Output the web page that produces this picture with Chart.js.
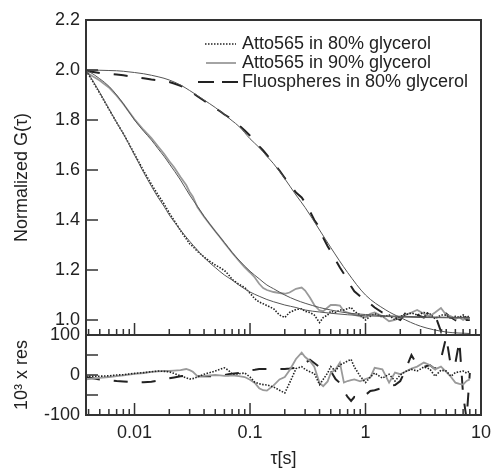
<!DOCTYPE html>
<html><head><meta charset="utf-8">
<script src="https://cdn.jsdelivr.net/npm/chart.js@4.4.0/dist/chart.umd.min.js"></script>
<style>
html,body{margin:0;padding:0;background:#fff;width:491px;height:468px;overflow:hidden;}
#c1{position:absolute;left:0;top:0;}
#c2{position:absolute;left:0;top:320px;}
</style></head><body>
<canvas id="c1" width="491" height="336"></canvas>
<canvas id="c2" width="491" height="148"></canvas>
<script>
// ---------- data ----------
const seriesNames = ['Atto565 in 80% glycerol', 'Atto565 in 90% glycerol', 'Fluospheres in 80% glycerol'];

const tauData = [0.0038, 0.004, 0.005, 0.006, 0.007, 0.008, 0.01, 0.012, 0.014, 0.016, 0.018, 0.02, 0.022, 0.025, 0.028, 0.03, 0.032, 0.035, 0.04, 0.045, 0.05, 0.055, 0.06, 0.065, 0.07, 0.08, 0.09, 0.1, 0.11, 0.12, 0.13, 0.14, 0.16, 0.18, 0.2, 0.22, 0.25, 0.28, 0.3, 0.33, 0.36, 0.4, 0.43, 0.47, 0.5, 0.55, 0.6, 0.65, 0.7, 0.75, 0.8, 0.9, 1.0, 1.1, 1.2, 1.4, 1.6, 1.8, 2.0, 2.2, 2.5, 2.8, 3.2, 3.6, 4.0, 4.5, 5.0, 5.5, 6.0, 6.5, 7.0, 7.5, 8.0];

const g80 = [1.997, 1.982, 1.907, 1.843, 1.79, 1.746, 1.664, 1.596, 1.543, 1.5, 1.464, 1.428, 1.399, 1.358, 1.325, 1.305, 1.294, 1.275, 1.252, 1.234, 1.22, 1.209, 1.198, 1.182, 1.162, 1.143, 1.13, 1.107,
  1.085, 1.072, 1.065, 1.058, 1.045, 1.02, 1.01, 1.03, 1.042, 1.045, 1.035, 1.03, 1.02, 0.99, 1.01, 1.02, 1.035, 1.03, 1.04, 1.04, 1.045, 1.05, 1.035, 1.02, 1.0, 1.015, 1.025, 1.012, 1.02, 1.0, 1.015, 1.02, 1.028, 1.02, 1.03, 1.025, 1.005, 1.02, 1.02, 1.005, 1.015, 1.01, 1.02, 1.01, 1.018];

const g90 = [1.998, 1.985, 1.958, 1.93, 1.897, 1.864, 1.803, 1.76, 1.728, 1.694, 1.665, 1.635, 1.611, 1.572, 1.54, 1.512, 1.493, 1.452, 1.413, 1.382, 1.355, 1.331, 1.308, 1.288, 1.269, 1.237, 1.21, 1.19,
  1.17, 1.145, 1.128, 1.12, 1.112, 1.108, 1.105, 1.11, 1.125, 1.13, 1.118, 1.09, 1.06, 1.038, 1.035, 1.05, 1.06, 1.06, 1.058, 1.035, 1.03, 1.025, 1.02, 1.015, 1.01, 1.025, 1.03, 1.015, 0.995, 1.0, 1.01, 1.02, 1.03, 1.04, 1.025, 1.015, 1.03, 1.048, 1.02, 1.015, 1.005, 1.01, 1.0, 1.008, 1.005];

const gFluo = [1.998, 1.995, 1.988, 1.985, 1.982, 1.979, 1.972, 1.967, 1.962, 1.959, 1.956, 1.952, 1.946, 1.937, 1.925, 1.916, 1.908, 1.895, 1.877, 1.862, 1.847, 1.835, 1.822, 1.812, 1.8, 1.78, 1.758, 1.737,
  1.712, 1.695, 1.678, 1.66, 1.628, 1.598, 1.568, 1.545, 1.51, 1.49, 1.47, 1.435, 1.4, 1.37, 1.33, 1.295, 1.275, 1.24, 1.21, 1.185, 1.16, 1.135, 1.115, 1.095, 1.085, 1.065, 1.05, 1.03, 1.025, 1.01, 1.0, 1.025, 1.005, 1.02, 1.01, 1.035, 1.02, 0.955, 1.025, 1.01, 1.0, 1.032, 1.015, 1.0, 1.0];

const res80 = [-3, -3, -3, -2, 0, 1, 4, 6, 8, 10, 9, 8, 4, -2, -7, -10, -9, -5, 2, 6, 10, 14, 18, 12, 2, 3, 5, -5,
  -18, -22, -24, -25, -30, -38, -45, -20, 16, 21, 14, 8, 4, -24, -11, 5, 21, 10, 25, 30, 35, 39, 20, -3, -19, -5, 5, -8, 2, -15, 0, 8, 14, 10, 20, 15, -3, 12, 10, -3, 6, 8, 10, 5, 10];

const res90 = [-11, -10, -7, -5, -3, -1, 3, 5, 8, 9, 10, 10, 11, 12, 15, 12, 8, -3, -2, -1, 0, -1, -2, -2, -1, -3, -5, -12,
  -20, -33, -38, -39, -26, -11, -5, 12, 40, 56, 45, 35, 21, -20, -28, -16, 5, 14, 31, -19, -15, -13, -11, -16, -10, -6, 18, 14, -19, 6, 2, 8, 16, 21, 31, 25, 14, 21, 8, -5, -19, -22, -24, -15, -11];

const resFluo = [-5, -6, -11, -13, -15, -16, -18, -18, -17, -14, -11, -8, -6, -3, -2, -2, -2, -3, -3, -3, -3, -1, 0, 2, 3, 5, 8, 12,
  13, 15, 15, 15, 15, 15, 15, 16, 18, 25, 30, 38, 30, 20, 18, 14, 10, -10, -20, -40, -55, -65, -55, -60, -50, -40, -38, -32, -28, -25, -15, 10, 50, 25, 20, 25, 15, 40, 95, 20, 30, 85, -50, -110, 5];

const tauFit = [0.0038, 0.004, 0.005, 0.006, 0.007, 0.008, 0.01, 0.012, 0.014, 0.016, 0.018, 0.02, 0.025, 0.03, 0.035, 0.04, 0.05, 0.06, 0.07, 0.08, 0.1, 0.12, 0.14, 0.16, 0.2, 0.25, 0.3, 0.4, 0.5, 0.7, 1, 1.5, 2, 3, 5, 8];
const fit80 = [2.0, 1.985, 1.91, 1.845, 1.79, 1.745, 1.66, 1.59, 1.535, 1.49, 1.455, 1.42, 1.36, 1.315, 1.28, 1.25, 1.21, 1.18, 1.16, 1.14, 1.112, 1.095, 1.082, 1.073, 1.06, 1.05, 1.04, 1.032, 1.027, 1.021, 1.017, 1.014, 1.012, 1.01, 1.009, 1.008];
const fit90 = [2.0, 1.995, 1.965, 1.935, 1.9, 1.865, 1.8, 1.755, 1.72, 1.685, 1.655, 1.625, 1.56, 1.5, 1.455, 1.415, 1.355, 1.31, 1.27, 1.24, 1.195, 1.165, 1.14, 1.125, 1.1, 1.08, 1.067, 1.05, 1.04, 1.028, 1.022, 1.017, 1.015, 1.013, 1.011, 1.01];
const fitFluo = [2.0, 2.0, 1.999, 1.998, 1.997, 1.995, 1.99, 1.985, 1.979, 1.973, 1.967, 1.96, 1.94, 1.918, 1.898, 1.88, 1.85, 1.822, 1.797, 1.775, 1.725, 1.69, 1.655, 1.625, 1.565, 1.5, 1.45, 1.36, 1.29, 1.19, 1.1, 1.04, 1.01, 0.975, 0.952, 0.946];

const xTickLabels = [0.01, 0.1, 1, 10];
const yTicksMain = [1.0, 1.2, 1.4, 1.6, 1.8, 2.0, 2.2];
const yTicksRes = [-100, -50, 0, 50, 100];
const xMin = 0.0038, xMax = 10;
const yMainMin = 0.94, yMainMax = 2.2;
const yResMin = -100, yResMax = 100;

// ---------- styling ----------
Chart.defaults.font.family = '"Liberation Sans", Arial, Helvetica, sans-serif';
Chart.defaults.font.size = 18;
Chart.defaults.color = '#222';

const INK = '#222';
const GRAY = '#9a9a9a';
const FITC = '#555';

const pts = (xs, ys) => xs.map((x, i) => ({x: x, y: ys[i]}));
function lineDs(label, xs, ys, color, width, dash, smooth) {
  return {label: label, data: pts(xs, ys), borderColor: color, borderWidth: width,
    borderDash: dash, pointRadius: 0, fill: false, showLine: true,
    tension: 0, cubicInterpolationMode: smooth ? 'monotone' : 'default'};
}

// minor tick positions of the log axis
const minorX = [];
for (let d = 0.001; d < 10; d *= 10) {
  for (let m = 2; m <= 9; m++) { const v = +(m * d).toPrecision(3); if (v > xMin && v < xMax) minorX.push(v); }
}

function noPad(s) { s.paddingTop = 0; s.paddingBottom = 0; s.paddingLeft = 0; s.paddingRight = 0; }

function frameAndTicks(yTicks) {
  return {
    id: 'frameTicks',
    afterDraw(chart) {
      const {ctx, chartArea: a, scales: {x, y}} = chart;
      ctx.save();
      ctx.strokeStyle = '#333';
      ctx.lineWidth = 1.5;
      ctx.beginPath();
      yTicks.forEach(v => {
        const py = y.getPixelForValue(v);
        ctx.moveTo(a.left, py); ctx.lineTo(a.left + 12, py);
      });
      xTickLabels.forEach(v => {
        if (v >= xMax) return;
        const px = x.getPixelForValue(v);
        ctx.moveTo(px, a.bottom); ctx.lineTo(px, a.bottom - 12);
      });
      minorX.forEach(v => {
        const px = x.getPixelForValue(v);
        ctx.moveTo(px, a.bottom); ctx.lineTo(px, a.bottom - 6);
      });
      ctx.stroke();
      ctx.lineWidth = 2;
      ctx.strokeRect(a.left, a.top, a.right - a.left, a.bottom - a.top);
      ctx.restore();
    }
  };
}

const legendPlugin = {
  id: 'insideLegend',
  afterDraw(chart) {
    const ctx = chart.ctx;
    ctx.save();
    ctx.font = '18px "Liberation Sans", Arial, sans-serif';
    ctx.fillStyle = INK;
    ctx.textBaseline = 'middle';
    ctx.textAlign = 'left';
    const rows = [44, 63, 82];
    const tx = 242;
    seriesNames.forEach((n, i) => ctx.fillText(n, tx, rows[i]));
    ctx.lineCap = 'butt';
    ctx.strokeStyle = INK; ctx.lineWidth = 1.5; ctx.setLineDash([1.5, 1.5]);
    ctx.beginPath(); ctx.moveTo(205, rows[0]); ctx.lineTo(236, rows[0]); ctx.stroke();
    ctx.setLineDash([]);
    ctx.strokeStyle = GRAY; ctx.lineWidth = 1.8;
    ctx.beginPath(); ctx.moveTo(206, rows[1]); ctx.lineTo(236, rows[1]); ctx.stroke();
    ctx.strokeStyle = INK; ctx.lineWidth = 2;
    ctx.beginPath(); ctx.moveTo(198, rows[2]); ctx.lineTo(214, rows[2]);
    ctx.moveTo(222, rows[2]); ctx.lineTo(238, rows[2]); ctx.stroke();
    ctx.restore();
  }
};

const commonPlugins = {legend: {display: false}, tooltip: {enabled: false}};

// ---------- main chart ----------
new Chart(document.getElementById('c1'), {
  type: 'scatter',
  data: {datasets: [
    lineDs('fit80', tauFit, fit80, FITC, 1, [], true),
    lineDs('fit90', tauFit, fit90, FITC, 1, [], true),
    lineDs('fitFluo', tauFit, fitFluo, FITC, 1, [], true),
    lineDs(seriesNames[0], tauData, g80, INK, 1.6, [1.5, 1.5], false),
    lineDs(seriesNames[1], tauData, g90, GRAY, 1.8, [], false),
    lineDs(seriesNames[2], tauData, gFluo, INK, 2, [14, 14], false)
  ]},
  options: {
    responsive: false, animation: false, devicePixelRatio: 1,
    layout: {padding: {left: 0, right: 10, top: 20, bottom: 1}},
    plugins: commonPlugins,
    scales: {
      x: {type: 'logarithmic', min: xMin, max: xMax, display: false},
      y: {type: 'linear', min: yMainMin, max: yMainMax,
        afterBuildTicks: s => { s.ticks = yTicksMain.map(v => ({value: v})); },
        afterFit: s => { s.width = 86; noPad(s); },
        grid: {display: false, drawTicks: false}, border: {display: false},
        ticks: {padding: 6, color: INK, callback: v => Number(v).toFixed(1)},
        title: {display: true, text: 'Normalized G(τ)', color: INK, padding: {top: 11, bottom: 0}}
      }
    }
  },
  plugins: [frameAndTicks(yTicksMain), legendPlugin]
});

// ---------- residual chart ----------
new Chart(document.getElementById('c2'), {
  type: 'scatter',
  data: {datasets: [
    lineDs('res80', tauData, res80, INK, 1.6, [1.5, 1.5], false),
    lineDs('res90', tauData, res90, GRAY, 1.8, [], false),
    lineDs('resFluo', tauData, resFluo, INK, 2, [14, 14], false)
  ]},
  options: {
    responsive: false, animation: false, devicePixelRatio: 1,
    layout: {padding: {left: 0, right: 10, top: 15, bottom: 0}},
    plugins: commonPlugins,
    scales: {
      x: {type: 'logarithmic', min: xMin, max: xMax,
        afterBuildTicks: s => { s.ticks = xTickLabels.map(v => ({value: v})); },
        afterFit: s => { s.height = 53; noPad(s); },
        grid: {display: false, drawTicks: false}, border: {display: false},
        ticks: {padding: 7, color: INK, maxRotation: 0, autoSkip: false, callback: v => String(v)},
        title: {display: true, text: 'τ[s]', color: INK, font: {size: 18, lineHeight: 1}, padding: {top: 0, bottom: 0}}
      },
      y: {type: 'linear', min: yResMin, max: yResMax,
        afterBuildTicks: s => { s.ticks = yTicksRes.map(v => ({value: v})); },
        afterFit: s => { s.width = 86; noPad(s); },
        grid: {display: false, drawTicks: false}, border: {display: false},
        ticks: {padding: 6, color: INK, callback: v => String(v)},
        title: {display: true, text: '10³ x res', color: INK, padding: {top: 11, bottom: 0}}
      }
    }
  },
  plugins: [frameAndTicks(yTicksRes)]
});
</script>
</body></html>
